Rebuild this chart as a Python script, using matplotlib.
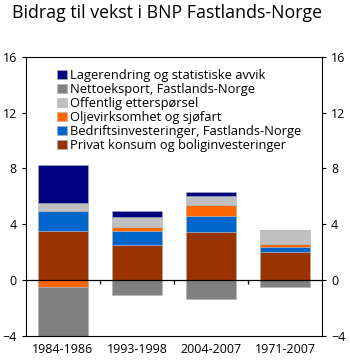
import numpy as np
import matplotlib
matplotlib.use('Agg')
from matplotlib import pyplot as plt

plt.rcParams['font.family'] = ['Open Sans', 'DejaVu Sans']

periods = ['1984-1986', '1993-1998', '2004-2007', '1971-2007']

# components, bottom to top of the stack
privat = [3.5, 2.47, 3.43, 2.0]
bedrift = [1.45, 1.05, 1.15, 0.38]
olje = [-0.55, 0.29, 0.79, 0.19]
offentlig = [0.55, 0.72, 0.64, 0.99]
netto = [-3.45, -1.08, -1.36, -0.55]
lager = [2.75, 0.43, 0.27, 0.0]

series = [
    ('Privat konsum og boliginvesteringer', privat, '#993300'),
    ('Bedriftsinvesteringer, Fastlands-Norge', bedrift, '#0066CC'),
    ('Oljevirksomhet og sjøfart', olje, '#FF6600'),
    ('Offentlig etterspørsel', offentlig, '#C0C0C0'),
    ('Nettoeksport, Fastlands-Norge', netto, '#808080'),
    ('Lagerendring og statistiske avvik', lager, '#000080'),
]

fig = plt.figure(figsize=(3.5, 3.62), dpi=100)
ax = fig.add_axes([0.074, 0.073, 0.846, 0.77])

x = np.arange(len(periods))
pos = np.zeros(len(periods))
neg = np.zeros(len(periods))
handles = []
for name, vals, color in series:
    vals = np.array(vals)
    bottom = np.where(vals >= 0, pos, neg)
    b = ax.bar(x, vals, width=0.68, bottom=bottom, color=color,
               edgecolor='#b0b0b0', linewidth=0.4, label=name)
    handles.append(b)
    pos = pos + np.where(vals >= 0, vals, 0)
    neg = neg + np.where(vals < 0, vals, 0)

ax.axhline(0, color='black', linewidth=0.9, zorder=3)
ax.vlines(np.arange(0.5, len(periods) - 1), -0.3, 0, color='black',
          linewidth=0.9, zorder=3)

ax.set_xlim(-0.5, len(periods) - 0.5)
ax.set_ylim(-4, 16)
ax.set_yticks([-4, 0, 4, 8, 12, 16])
ax.set_xticks(x)
ax.set_xticklabels(periods)
ax.tick_params(axis='x', length=0, labelsize=9, pad=5)
ax.tick_params(axis='y', direction='out', length=3, labelsize=9,
               right=True, labelright=True)

ax.legend(handles[::-1], [s[0] for s in series][::-1], loc='upper left',
          bbox_to_anchor=(0.08, 0.985), frameon=False, fontsize=9.3,
          handlelength=0.75, handleheight=0.75, handletextpad=0.25,
          labelspacing=0.08, borderaxespad=0.2)

fig.text(0.035, 0.99, 'Bidrag til vekst i BNP Fastlands-Norge',
         fontsize=12.8, va='top', ha='left')

fig.savefig('out.png', dpi=100)
